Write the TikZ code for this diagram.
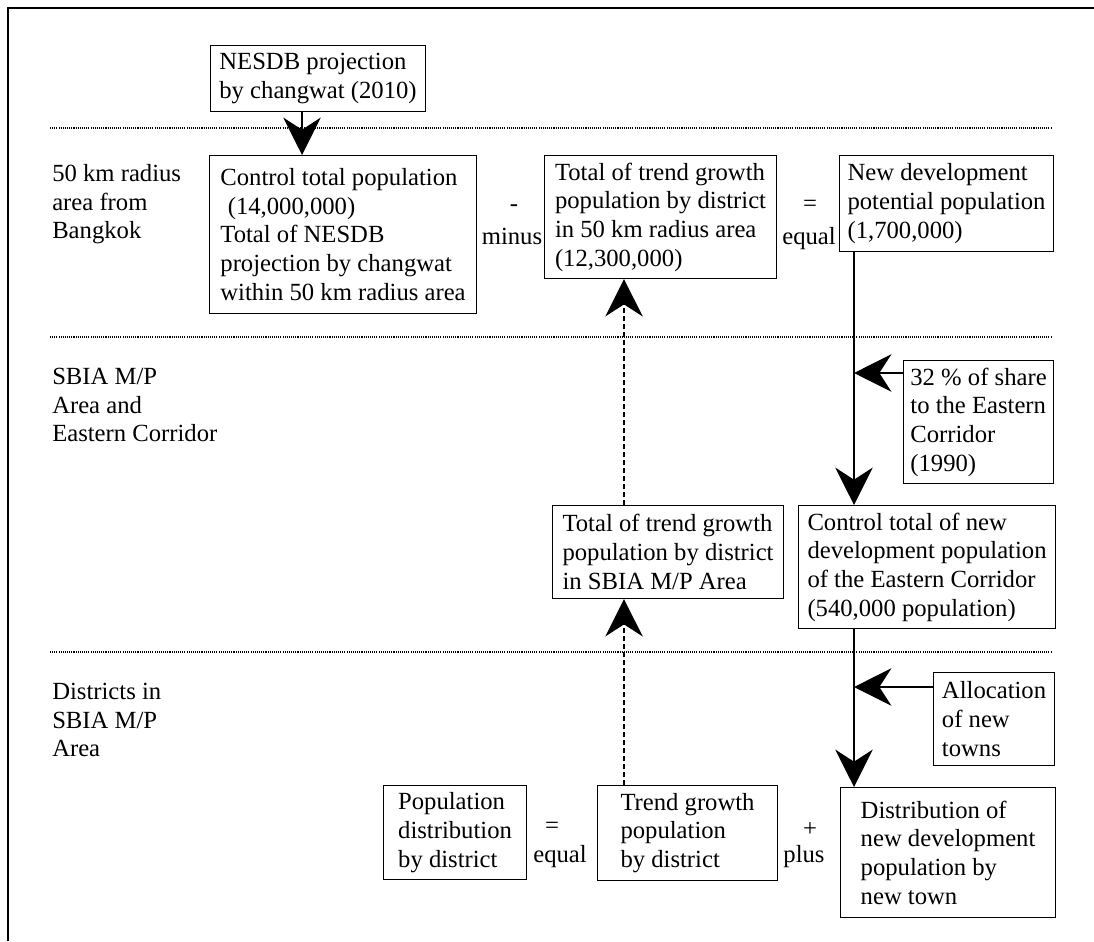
\documentclass[tikz,border=0pt]{standalone}
\usepackage{fontspec}
\setmainfont{Liberation Serif}
\usetikzlibrary{positioning,calc,arrows.meta}
\tikzset{font=\fontsize{18.5}{21.5}\selectfont}

\begin{document}
\begin{tikzpicture}[x=0.75pt, y=-0.75pt,
	popbox/.style={draw, line width=0.8pt, anchor=north west, align=left, inner sep=0pt},
	boxsize/.style 2 args={minimum width=#1*0.75pt, minimum height=#2*0.75pt},
	rowlabel/.style={anchor=north west, align=left, inner sep=0pt},
	bigarrow/.style={-{Stealth[length=28pt, width=28pt, inset=9pt]}, line width=2pt},
	trendarrow/.style={bigarrow, line width=1.5pt, dash pattern=on 4pt off 2pt},
	sepline/.style={line width=1.2pt, dash pattern=on 0.8pt off 0.8pt}]
	\useasboundingbox (0,0) rectangle (1094,941);

	% frame and level separators
	\draw[line width=2.2pt] (8,941) -- (8,8) -- (1094,8);
	\foreach \y in {128,337,652}
		\draw[sepline] (50,\y) -- (1052,\y);

	% row labels
	\node[rowlabel] (radius)   at (52,164) {50 km radius\\area from\\Bangkok};
	\node[rowlabel] (sbia)     at (52,368) {SBIA M/P\\Area and\\Eastern Corridor};
	\node[rowlabel] (district) at (52,683) {Districts in\\SBIA M/P\\Area};

	% boxes
	\node[popbox, boxsize={215}{66}]  (nesdb)     at (210,45)  {NESDB projection\\by changwat (2010)};
	\node[popbox, boxsize={267}{158}] (ctrl)      at (209,155) {Control total population\\\hspace{0.3em}(14,000,000)\\Total of NESDB\\projection by changwat\\within 50 km radius area};
	\node[popbox, boxsize={232}{123}] (trend50)   at (544,155) {Total of trend growth\\population by district\\in 50 km radius area\\(12,300,000)};
	\node[popbox, boxsize={214}{96}]  (newdev)    at (839,155) {New development\\potential population\\(1,700,000)};
	\node[popbox, boxsize={150}{123}] (share)     at (903,360) {32 \% of share\\to the Eastern\\Corridor\\(1990)};
	\node[popbox, boxsize={231}{93}]  (trendsbia) at (552,505) {Total of trend growth\\population by district\\in SBIA M/P Area};
	\node[popbox, boxsize={257}{123}] (ctrlnew)   at (798,505) {Control total of new\\development population\\of the Eastern Corridor\\(540,000 population)};
	\node[popbox, boxsize={121}{93}]  (alloc)     at (933,672) {Allocation\\of new\\towns};
	\node[popbox, boxsize={143}{94}]  (popdist)   at (383,785) {Population\\distribution\\by district};
	\node[popbox, boxsize={180}{95}]  (trendd)    at (597,785) {Trend growth\\population\\by district};
	\node[popbox, boxsize={215}{130}] (distnew)   at (840,787) {Distribution of\\new development\\population by\\new town};

	% operators
	\node (minussign) at (514,208) {-};
	\node (minusword) at (512,236) {minus};
	\node (eqsign1)   at (810,206) {=};
	\node (eqword1)   at (809,239) {equal};
	\node (eqsign2)   at (552,828) {=};
	\node (eqword2)   at (560,857) {equal};
	\node (plussign)  at (810,830) {+};
	\node (plusword)  at (804,857) {plus};

	% connectors
	\coordinate (a1) at ($(nesdb.south west)+(92,0)$);
	\draw[bigarrow] (a1) -- (a1 |- ctrl.north);
	\coordinate (a2) at ($(trendd.north west)+(27,0)$);
	\draw[trendarrow] (a2) -- (a2 |- trendsbia.south);
	\draw[trendarrow] (a2 |- trendsbia.north) -- (a2 |- trend50.south);
	\coordinate (a3) at ($(newdev.south west)+(15,0)$);
	\draw[bigarrow] (a3) -- (a3 |- ctrlnew.north);
	\coordinate (a4) at ($(share.north west)+(0,13)$);
	\draw[bigarrow] (a4) -- (a4 -| a3);
	\draw[bigarrow] (a3 |- ctrlnew.south) -- (a3 |- distnew.north);
	\coordinate (a5) at ($(alloc.north west)+(0,15)$);
	\draw[bigarrow] (a5) -- (a5 -| a3);
\end{tikzpicture}
\end{document}
